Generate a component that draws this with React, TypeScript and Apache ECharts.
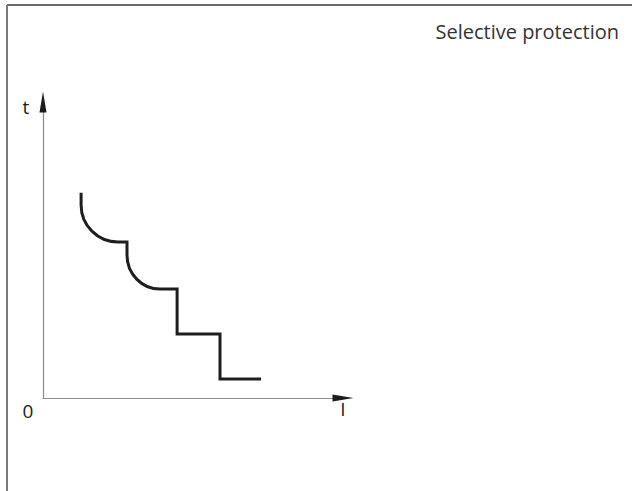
import React, { useEffect, useRef } from 'react';
import * as echarts from 'echarts';

const titleText = 'Selective protection';
const xAxisName = 'I';
const yAxisName = 't';
const originLabel = '0';

// Axis ranges (abstract units)
const xRange = [0, 100];
const yRange = [0, 100];

// Tripping curve vertices (x: current, y: time)
const curveX = [12.7, 12.7, 25.0, 28.0, 28.0, 39.0, 44.7, 44.7, 59.0, 59.0, 72.7];
const curveY = [69.3, 65.2, 52.7, 52.7, 48.3, 36.8, 36.8, 21.6, 21.6, 6.4, 6.4];
// segment type reaching each vertex: M = move, L = straight, A = quarter arc
const curveSegment = ['M', 'L', 'A', 'L', 'L', 'A', 'L', 'L', 'L', 'L', 'L'];

export default function App() {
  const ref = useRef<HTMLDivElement>(null);
  useEffect(() => {
    if (!ref.current) return;
    const chart = echarts.init(ref.current, null, { renderer: 'svg' });
    const font = '"Open Sans", "Noto Sans", sans-serif';
    const axisBase = (arrowOverlay: boolean) => ({
      type: 'value',
      gridIndex: 0,
      axisLine: {
        show: true,
        onZero: false,
        symbol: arrowOverlay ? ['none', 'triangle'] : 'none',
        symbolSize: [7, 21],
        lineStyle: arrowOverlay ? { color: '#1c1c1c', width: 0 } : { color: '#8a8a8a', width: 1.2 },
      },
      axisTick: { show: false },
      axisLabel: { show: false },
      splitLine: { show: false },
    });
    chart.setOption({
      animation: false,
      backgroundColor: '#ffffff',
      grid: { left: 43, top: 102, width: 300, height: 296 },
      xAxis: [
        { ...axisBase(false), position: 'bottom', min: xRange[0], max: xRange[1] },
        { ...axisBase(true), position: 'bottom', min: xRange[0], max: xRange[1] },
      ],
      yAxis: [
        { ...axisBase(false), position: 'left', min: yRange[0], max: yRange[1] },
        { ...axisBase(true), position: 'left', min: yRange[0], max: yRange[1] },
      ],
      graphic: [
        { type: 'line', shape: { x1: 7, y1: 5, x2: 632, y2: 5 }, style: { stroke: '#3a3a3a', lineWidth: 1.5 } },
        { type: 'line', shape: { x1: 7, y1: 5, x2: 7, y2: 491 }, style: { stroke: '#7a7a7a', lineWidth: 2 } },
        {
          type: 'text', x: 619, y: 31,
          style: { text: titleText, font: `20px ${font}`, fill: '#333333', textAlign: 'right', textVerticalAlign: 'middle' },
        },
        {
          type: 'text', x: 26, y: 107,
          style: { text: yAxisName, font: `19px ${font}`, fill: '#222222', textAlign: 'center', textVerticalAlign: 'middle' },
        },
        {
          type: 'text', x: 28, y: 411,
          style: { text: originLabel, font: `19px ${font}`, fill: '#222222', textAlign: 'center', textVerticalAlign: 'middle' },
        },
        {
          type: 'text', x: 343, y: 409,
          style: { text: xAxisName, font: `19px ${font}`, fill: '#222222', textAlign: 'center', textVerticalAlign: 'middle' },
        },
      ],
      series: [
        {
          type: 'custom',
          coordinateSystem: 'cartesian2d',
          xAxisIndex: 0,
          yAxisIndex: 0,
          clip: false,
          data: curveX.map((x, i) => [x, curveY[i]]),
          renderItem: (params: any, api: any) => {
            if (params.dataIndex !== 0) return null;
            let d = '';
            let prev: number[] = [0, 0];
            for (let i = 0; i < curveX.length; i++) {
              const p = api.coord([curveX[i], curveY[i]]);
              const seg = curveSegment[i];
              if (seg === 'M') d += `M${p[0]} ${p[1]}`;
              else if (seg === 'L') d += ` L${p[0]} ${p[1]}`;
              else {
                const rx = Math.abs(p[0] - prev[0]);
                const ry = Math.abs(p[1] - prev[1]);
                d += ` A${rx} ${ry} 0 0 0 ${p[0]} ${p[1]}`;
              }
              prev = p;
            }
            return {
              type: 'path',
              shape: { pathData: d },
              style: { fill: 'none', stroke: '#1e1e1e', lineWidth: 3, lineJoin: 'miter', lineCap: 'butt' },
            };
          },
        },
      ],
    });
    return () => chart.dispose();
  }, []);
  return (
    <div
      ref={ref}
      style={{ position: 'fixed', left: 0, top: 0, width: 632, height: 491, background: '#fff' }}
    />
  );
}
